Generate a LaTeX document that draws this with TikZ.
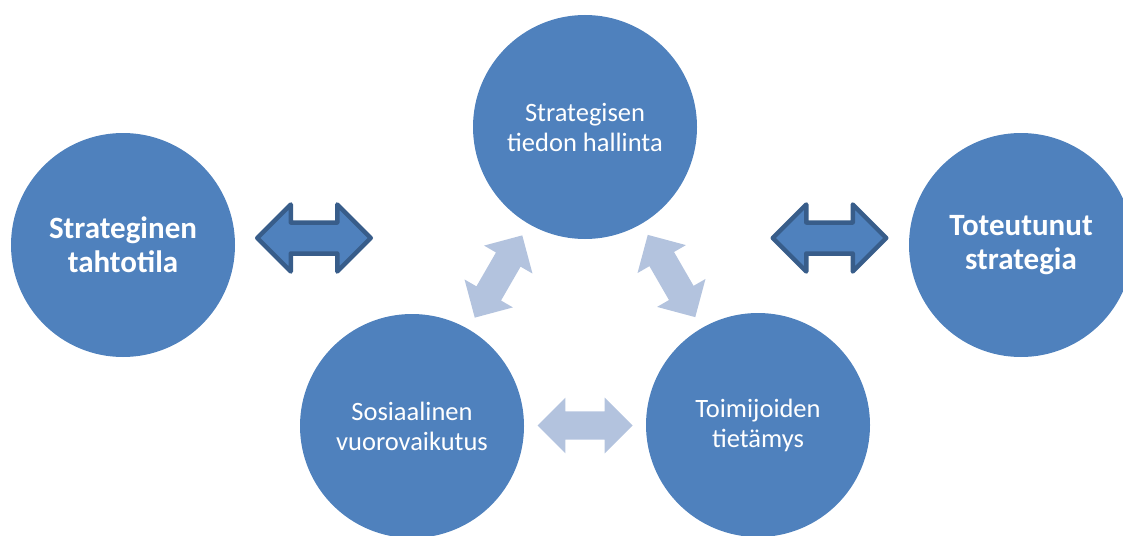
\documentclass[tikz,border=0pt]{standalone}
\usepackage{fontspec}
\setmainfont{Carlito}
\usetikzlibrary{shapes.arrows,calc}
\definecolor{circblue}{HTML}{4F81BD}
\definecolor{arrowedge}{HTML}{385D8A}
\definecolor{arrowlight}{HTML}{B3C3DE}
\begin{document}
\begin{tikzpicture}[x=1pt, y=-1pt,
  circ/.style={circle, fill=circblue, text=white, minimum size=224pt, inner sep=0pt, align=center},
  outer/.style={circ, font=\fontsize{31}{34}\selectfont\bfseries},
  inner/.style={circ, font=\fontsize{26.5}{30}\selectfont},
  darkarrow/.style={double arrow, fill=circblue, draw=arrowedge, line width=4.5pt, line join=round,
    minimum height=113.5pt, inner xsep=0pt, inner ysep=13.25pt, double arrow head extend=18pt},
  lightarrow/.style={double arrow, fill=arrowlight, minimum height=95pt,
    inner xsep=0pt, inner ysep=14pt, double arrow head extend=13.75pt}]
  \clip (0,0) rectangle (1123,535);

  \node[outer] (tahto) at (123,245) {Strateginen\\tahtotila};
  \node[inner] (hallinta) at (585,127) {Strategisen\\tiedon hallinta};
  \node[inner] (vuoro) at (412,426) {Sosiaalinen\\vuorovaikutus};
  \node[inner] (tietamys) at (758,425) {Toimijoiden\\tietämys};
  \node[outer] (toteutunut) at (1021,245) {Toteutunut\\strategia};

  \node[darkarrow] (left) at (314,238) {};
  \node[darkarrow] (right) at (829.5,238) {};

  \node[lightarrow, rotate=60] (vh) at ($(vuoro)!0.5!(hallinta)$) {};
  \node[lightarrow, rotate=-60] (ht) at ($(hallinta)!0.5!(tietamys)$) {};
  \node[lightarrow] (vt) at ($(vuoro)!0.5!(tietamys)$) {};
\end{tikzpicture}
\end{document}
